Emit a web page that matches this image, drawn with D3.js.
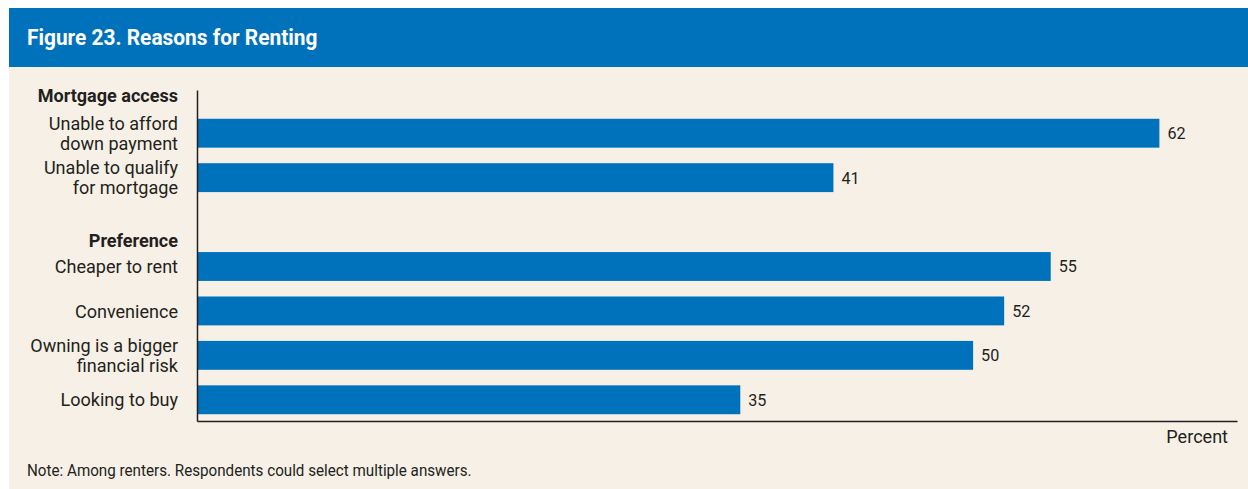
<!DOCTYPE html>
<html>
<head>
<meta charset="utf-8">
<script src="https://cdn.jsdelivr.net/npm/d3@7"></script>
<style>
  html, body { margin: 0; padding: 0; background: #ffffff; }
  svg { display: block; }
  text { font-family: "Roboto", "DejaVu Sans Condensed", sans-serif; fill: #231f20; }
</style>
</head>
<body>
<svg id="chart" width="1248" height="489"></svg>
<script>
// Survey responses: reasons for renting (percent of renters)
const groups = ["Mortgage access", "Preference"];
const categories = [
  "Unable to afford\ndown payment",
  "Unable to qualify\nfor mortgage",
  "",
  "Cheaper to rent",
  "Convenience",
  "Owning is a bigger\nfinancial risk",
  "Looking to buy"
];
const slotKeys = ["afford", "qualify", "gap", "cheaper", "convenience", "risk", "looking"];
const values = [62, 41, null, 55, 52, 50, 35];

const title = "Figure 23. Reasons for Renting";
const unitLabel = "Percent";
const note = "Note: Among renters. Respondents could select multiple answers.";

const W = 1248, H = 489;
const svg = d3.select("#chart");

const blue = "#0071bb";
const beige = "#f6f0e6";
const narrow = 0.95; // slight horizontal squeeze for a condensed look

// places a text with condensed horizontal scaling around its anchor point
function condensed(sel, x0, y0) {
  return sel.attr("transform", `translate(${x0},${y0}) scale(${narrow},1)`);
}

// panel background and title band
svg.append("rect").attr("x", 9).attr("y", 67).attr("width", W - 9).attr("height", H - 67).attr("fill", beige);
svg.append("rect").attr("x", 9).attr("y", 8).attr("width", W - 9).attr("height", 59).attr("fill", blue);
svg.append("text").call(condensed, 27, 45)
  .style("font-size", "22px").style("font-weight", "bold").style("fill", "#ffffff")
  .text(title);

const x = d3.scaleLinear().domain([0, 67]).range([197, 1237]);
const y = d3.scaleBand().domain(slotKeys).range([111, 422]).paddingInner(0.35).paddingOuter(0.175);

// bars
const rows = slotKeys.map((k, i) => ({ key: k, label: categories[i], value: values[i] })).filter(d => d.value !== null);

svg.append("g").selectAll("rect").data(rows).join("rect")
  .attr("x", x(0))
  .attr("y", d => y(d.key))
  .attr("width", d => x(d.value) - x(0))
  .attr("height", y.bandwidth())
  .attr("fill", blue);

// value labels
svg.append("g").selectAll("text").data(rows).join("text")
  .each(function(d) { condensed(d3.select(this), x(d.value) + 8, y(d.key) + y.bandwidth() / 2); })
  .attr("dy", "0.35em")
  .style("font-size", "17px")
  .text(d => d.value);

// category labels (right aligned, possibly two lines)
svg.append("g").selectAll("text").data(rows).join("text")
  .attr("text-anchor", "end")
  .style("font-size", "19px")
  .each(function(d) {
    const t = d3.select(this);
    condensed(t, 178, y(d.key) + y.bandwidth() / 2);
    const lines = d.label.split("\n");
    const lh = 20;
    const start = -(lines.length - 1) * lh / 2;
    lines.forEach((ln, i) => {
      t.append("tspan").attr("x", 0).attr("y", start + i * lh).attr("dy", "0.35em").text(ln);
    });
  });

// group headings
svg.append("g").selectAll("text").data(groups).join("text")
  .attr("text-anchor", "end")
  .each(function(d, i) { condensed(d3.select(this), 178, i === 0 ? 102 : 247); })
  .style("font-size", "19px").style("font-weight", "bold")
  .text(d => d);

// axes
const xAxis = d3.axisBottom(x).tickValues([]).tickSizeOuter(0);
svg.append("g").attr("transform", `translate(0,${421})`).call(xAxis)
  .call(g => g.select(".domain").attr("stroke", "#231f20").attr("stroke-width", 1.5));
const yAxis = d3.axisLeft(d3.scaleLinear().range([90, 421])).tickValues([]).tickSizeOuter(0);
svg.append("g").attr("transform", `translate(${197},0)`).call(yAxis)
  .call(g => g.select(".domain").attr("stroke", "#231f20").attr("stroke-width", 1.5));

svg.append("text").call(condensed, 1228, 443).attr("text-anchor", "end")
  .style("font-size", "19px").text(unitLabel);

svg.append("text").call(condensed, 27, 476)
  .style("font-size", "16px").text(note);
</script>
</body>
</html>
